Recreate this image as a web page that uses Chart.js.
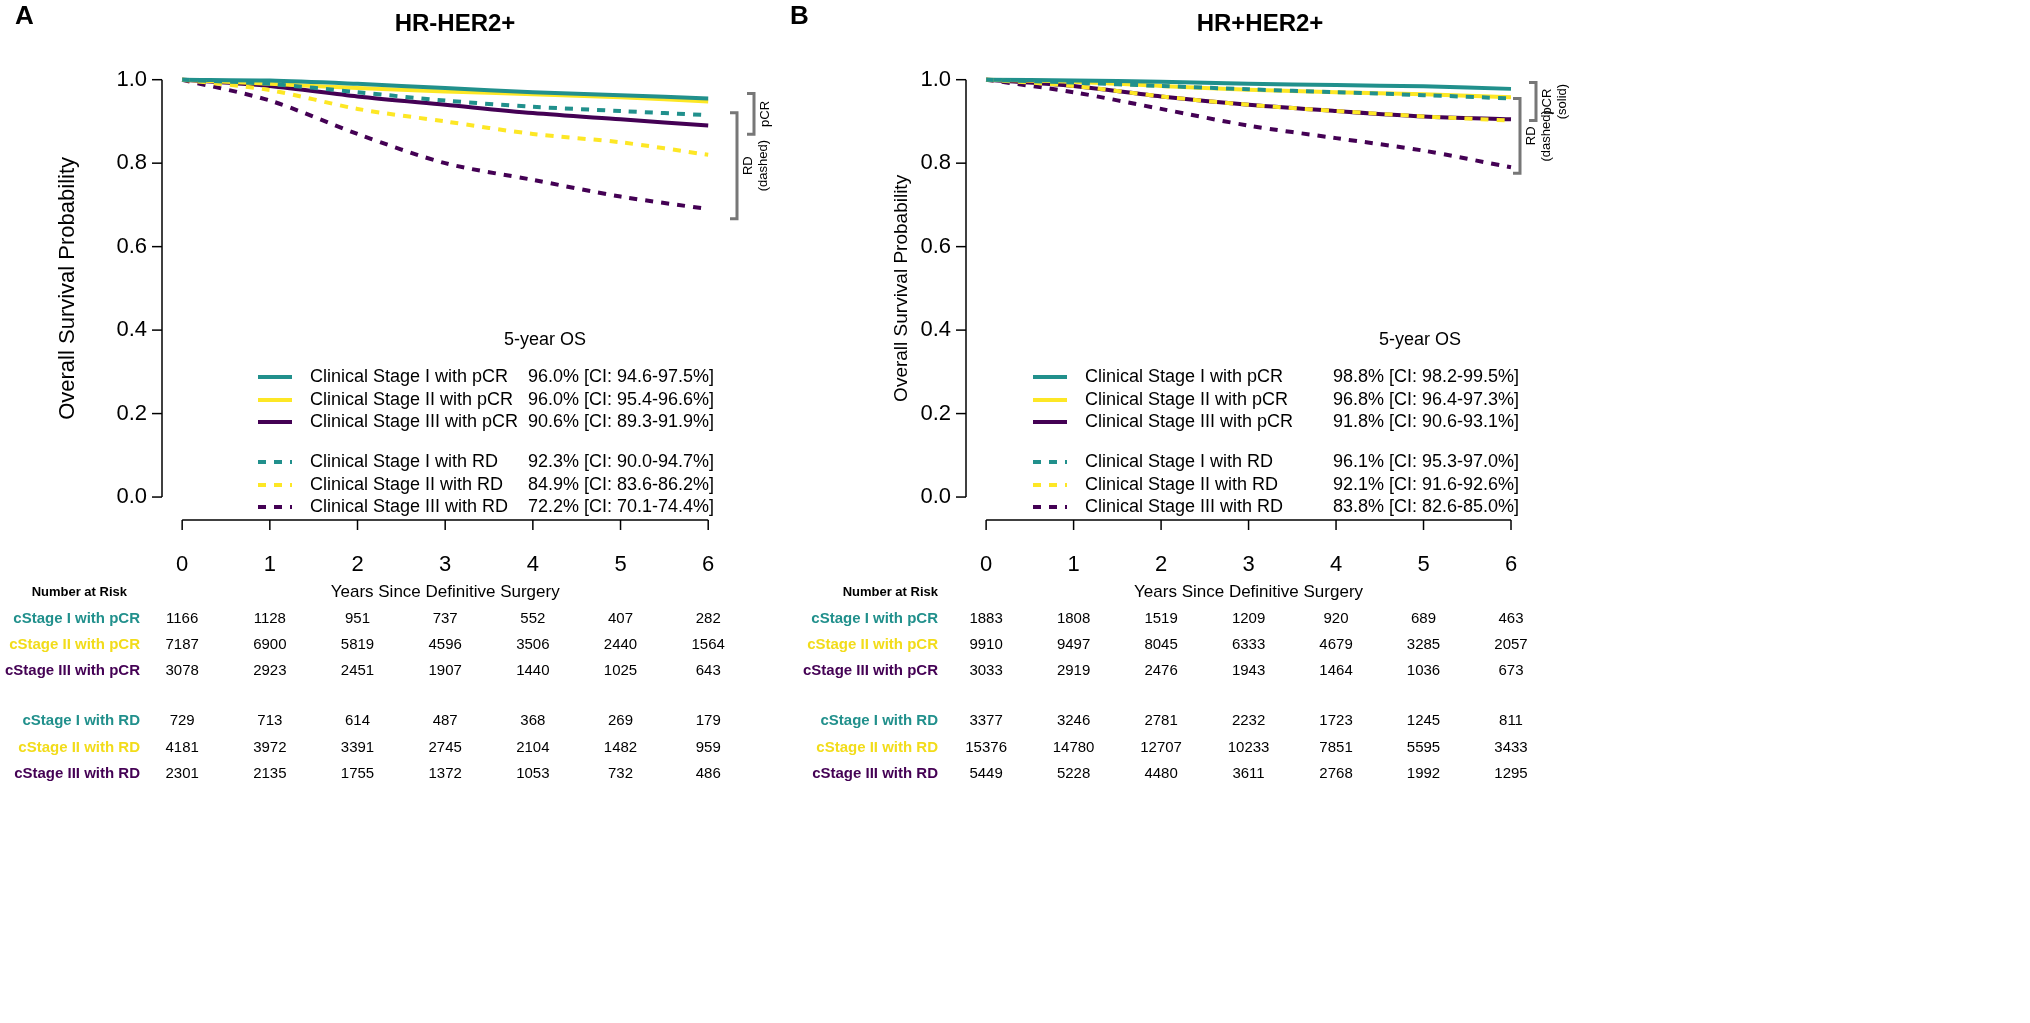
<!DOCTYPE html>
<html><head><meta charset="utf-8">
<script src="https://cdn.jsdelivr.net/npm/chart.js@4/dist/chart.umd.min.js"></script>
<style>body{margin:0;background:#fff;width:2030px;height:1023px;overflow:hidden;position:relative}
.p{position:absolute;top:0;height:1023px}</style></head><body>
<div class="p" style="left:0;width:775px"><canvas id="cA"></canvas></div>
<div class="p" style="left:775px;width:1255px"><canvas id="cB"></canvas></div>
<script>
const years=[0,1,2,3,4,5,6];
const seriesNames=["Clinical Stage I with pCR","Clinical Stage II with pCR","Clinical Stage III with pCR","Clinical Stage I with RD","Clinical Stage II with RD","Clinical Stage III with RD"];
const riskNames=["cStage I with pCR","cStage II with pCR","cStage III with pCR","cStage I with RD","cStage II with RD","cStage III with RD"];
const A_I_pCR=[1,0.998,0.99,0.98,0.97,0.963,0.955];
const A_II_pCR=[1,0.99,0.98,0.972,0.965,0.958,0.948];
const A_III_pCR=[1,0.985,0.96,0.94,0.92,0.905,0.89];
const A_I_RD=[1,0.99,0.97,0.95,0.935,0.925,0.915];
const A_II_RD=[1,0.975,0.93,0.9,0.87,0.85,0.82];
const A_III_RD=[1,0.95,0.87,0.80,0.76,0.72,0.69];
const B_I_pCR=[1,0.998,0.995,0.99,0.987,0.984,0.978];
const B_II_pCR=[1,0.995,0.985,0.976,0.97,0.965,0.958];
const B_III_pCR=[1,0.985,0.96,0.94,0.925,0.912,0.905];
const B_I_RD=[1,0.993,0.985,0.977,0.97,0.963,0.955];
const B_II_RD=[1,0.985,0.96,0.94,0.925,0.912,0.902];
const B_III_RD=[1,0.97,0.93,0.89,0.86,0.83,0.79];
const A_os=["96.0% [CI: 94.6-97.5%]","96.0% [CI: 95.4-96.6%]","90.6% [CI: 89.3-91.9%]","92.3% [CI: 90.0-94.7%]","84.9% [CI: 83.6-86.2%]","72.2% [CI: 70.1-74.4%]"];
const B_os=["98.8% [CI: 98.2-99.5%]","96.8% [CI: 96.4-97.3%]","91.8% [CI: 90.6-93.1%]","96.1% [CI: 95.3-97.0%]","92.1% [CI: 91.6-92.6%]","83.8% [CI: 82.6-85.0%]"];
const A_risk=[[1166,1128,951,737,552,407,282],[7187,6900,5819,4596,3506,2440,1564],[3078,2923,2451,1907,1440,1025,643],[729,713,614,487,368,269,179],[4181,3972,3391,2745,2104,1482,959],[2301,2135,1755,1372,1053,732,486]];
const B_risk=[[1883,1808,1519,1209,920,689,463],[9910,9497,8045,6333,4679,3285,2057],[3033,2919,2476,1943,1464,1036,673],[3377,3246,2781,2232,1723,1245,811],[15376,14780,12707,10233,7851,5595,3433],[5449,5228,4480,3611,2768,1992,1295]];
const yTicks=[0,0.2,0.4,0.6,0.8,1.0];
const colors=["#21908c","#fde725","#440154","#21908c","#fde725","#440154"];
const F="'Liberation Sans', Arial, sans-serif";

function panel(id,off,width,letter,title,curves,os,risk,P){
  const ds=curves.map((c,i)=>({label:seriesNames[i],data:years.map((x,j)=>({x:x,y:c[j]})),borderColor:colors[i],borderWidth:4,borderDash:i>2?[8,8]:[],pointRadius:0,tension:0.3,fill:false}));
  const plug={id:'deco',afterDraw(ch){
    const c=ch.ctx,xs=ch.scales.x,ys=ch.scales.y,ca=ch.chartArea;
    c.save();c.translate(-off,0);
    const L=ca.left+off,B=ca.bottom,X=v=>xs.getPixelForValue(v)+off,Y=v=>ys.getPixelForValue(v);
    c.strokeStyle='#000';c.lineWidth=1.5;c.fillStyle='#000';
    c.beginPath();c.moveTo(L,Y(0));c.lineTo(L,Y(1));c.stroke();
    c.font='22px '+F;c.textAlign='right';c.textBaseline='middle';
    yTicks.forEach(v=>{c.beginPath();c.moveTo(L,Y(v));c.lineTo(L-10,Y(v));c.stroke();c.fillText(v.toFixed(1),L-15,Y(v));});
    c.beginPath();c.moveTo(X(0),B);c.lineTo(X(6),B);c.stroke();
    c.textAlign='center';c.textBaseline='top';
    years.forEach(v=>{c.beginPath();c.moveTo(X(v),B);c.lineTo(X(v),B+10);c.stroke();c.fillText(String(v),X(v),B+34);});
    c.font='17px '+F;c.fillText('Years Since Definitive Surgery',(X(0)+X(6))/2,B+64);
    c.save();c.translate(P.ylabX,Y(0.5));c.rotate(-Math.PI/2);c.font=P.ylabFont+'px '+F;c.textBaseline='middle';c.fillText('Overall Survival Probability',0,0);c.restore();
    c.font='bold 26px '+F;c.textAlign='left';c.textBaseline='top';c.fillText(letter,P.letX,4);
    c.font='bold 24px '+F;c.textAlign='center';c.fillText(title,P.titleX,12);
    c.font='18px '+F;c.textAlign='center';c.textBaseline='middle';c.fillText('5-year OS',P.osHX,340);
    const rows=[377,400,422,462,485,507];
    rows.forEach((y,i)=>{c.save();c.strokeStyle=colors[i];c.lineWidth=4;c.setLineDash(i>2?[8,8]:[]);c.beginPath();c.moveTo(P.legX,y);c.lineTo(P.legX+34,y);c.stroke();c.restore();
      c.textAlign='left';c.fillStyle='#000';c.fillText(seriesNames[i],P.legX+52,y);c.fillText(os[i],P.osX,y);});
    c.strokeStyle='#777';c.lineWidth=3;
    P.br.forEach(b=>{c.beginPath();c.moveTo(b.x-7,Y(b.y0));c.lineTo(b.x,Y(b.y0));c.lineTo(b.x,Y(b.y1));c.lineTo(b.x-7,Y(b.y1));c.stroke();
      c.save();c.translate(b.x+4,(Y(b.y0)+Y(b.y1))/2);c.rotate(-Math.PI/2);c.fillStyle='#000';c.font='13px '+F;c.textAlign='center';c.textBaseline='top';c.fillText(b.t1,0,1);c.fillText(b.t2,0,16);c.restore();});
    c.fillStyle='#000';c.font='bold 13px '+F;c.textAlign='right';c.textBaseline='middle';c.fillText('Number at Risk',P.nrX,592);
    const ry=[619,645,671,721,748,774];
    ry.forEach((y,i)=>{c.font='bold 15px '+F;c.fillStyle=i%3==1?'#f2dc1a':colors[i];c.textAlign='right';c.fillText(riskNames[i],P.rnX,y);
      c.fillStyle='#000';c.font='15px '+F;c.textAlign='center';years.forEach((v,j)=>c.fillText(String(risk[i][j]),X(v),y));});
    c.restore();
  }};
  new Chart(document.getElementById(id),{type:'line',data:{datasets:[ds[3],ds[4],ds[5],ds[0],ds[1],ds[2]]},
    options:{responsive:false,animation:false,devicePixelRatio:1,
      layout:{padding:{left:P.padL,right:width-P.right,top:63,bottom:1023-520}},
      plugins:{legend:{display:false},tooltip:{enabled:false}},
      scales:{x:{type:'linear',display:false,min:-0.23,max:(P.right-P.x0)/P.px},y:{display:false,min:-0.055,max:1.04}}},
    plugins:[plug]});
}
function size(id,w){const e=document.getElementById(id);e.width=w;e.height=1023;e.style.width=w+'px';e.style.height='1023px';}
size('cA',775);size('cB',1255);
panel('cA',0,775,'A','HR-HER2+',[A_I_pCR,A_II_pCR,A_III_pCR,A_I_RD,A_II_RD,A_III_RD],A_os,A_risk,
 {padL:162,x0:182,px:87.7,right:182+6.23*87.7,ylabX:68,ylabFont:22,letX:15,titleX:455,osHX:545,legX:258,osX:528,nrX:127,rnX:140,
  br:[{x:754,y0:0.967,y1:0.869,t1:'pCR',t2:'(solid)'},{x:737,y0:0.921,y1:0.667,t1:'RD',t2:'(dashed)'}]});
panel('cB',775,1255,'B','HR+HER2+',[B_I_pCR,B_II_pCR,B_III_pCR,B_I_RD,B_II_RD,B_III_RD],B_os,B_risk,
 {padL:191,x0:211,px:87.5,right:211+6.23*87.5,ylabX:902,ylabFont:19,letX:790,titleX:1260,osHX:1420,legX:1033,osX:1333,nrX:938,rnX:938,
  br:[{x:1536,y0:0.993,y1:0.902,t1:'pCR',t2:'(solid)'},{x:1520,y0:0.955,y1:0.776,t1:'RD',t2:'(dashed)'}]});
</script></body></html>
